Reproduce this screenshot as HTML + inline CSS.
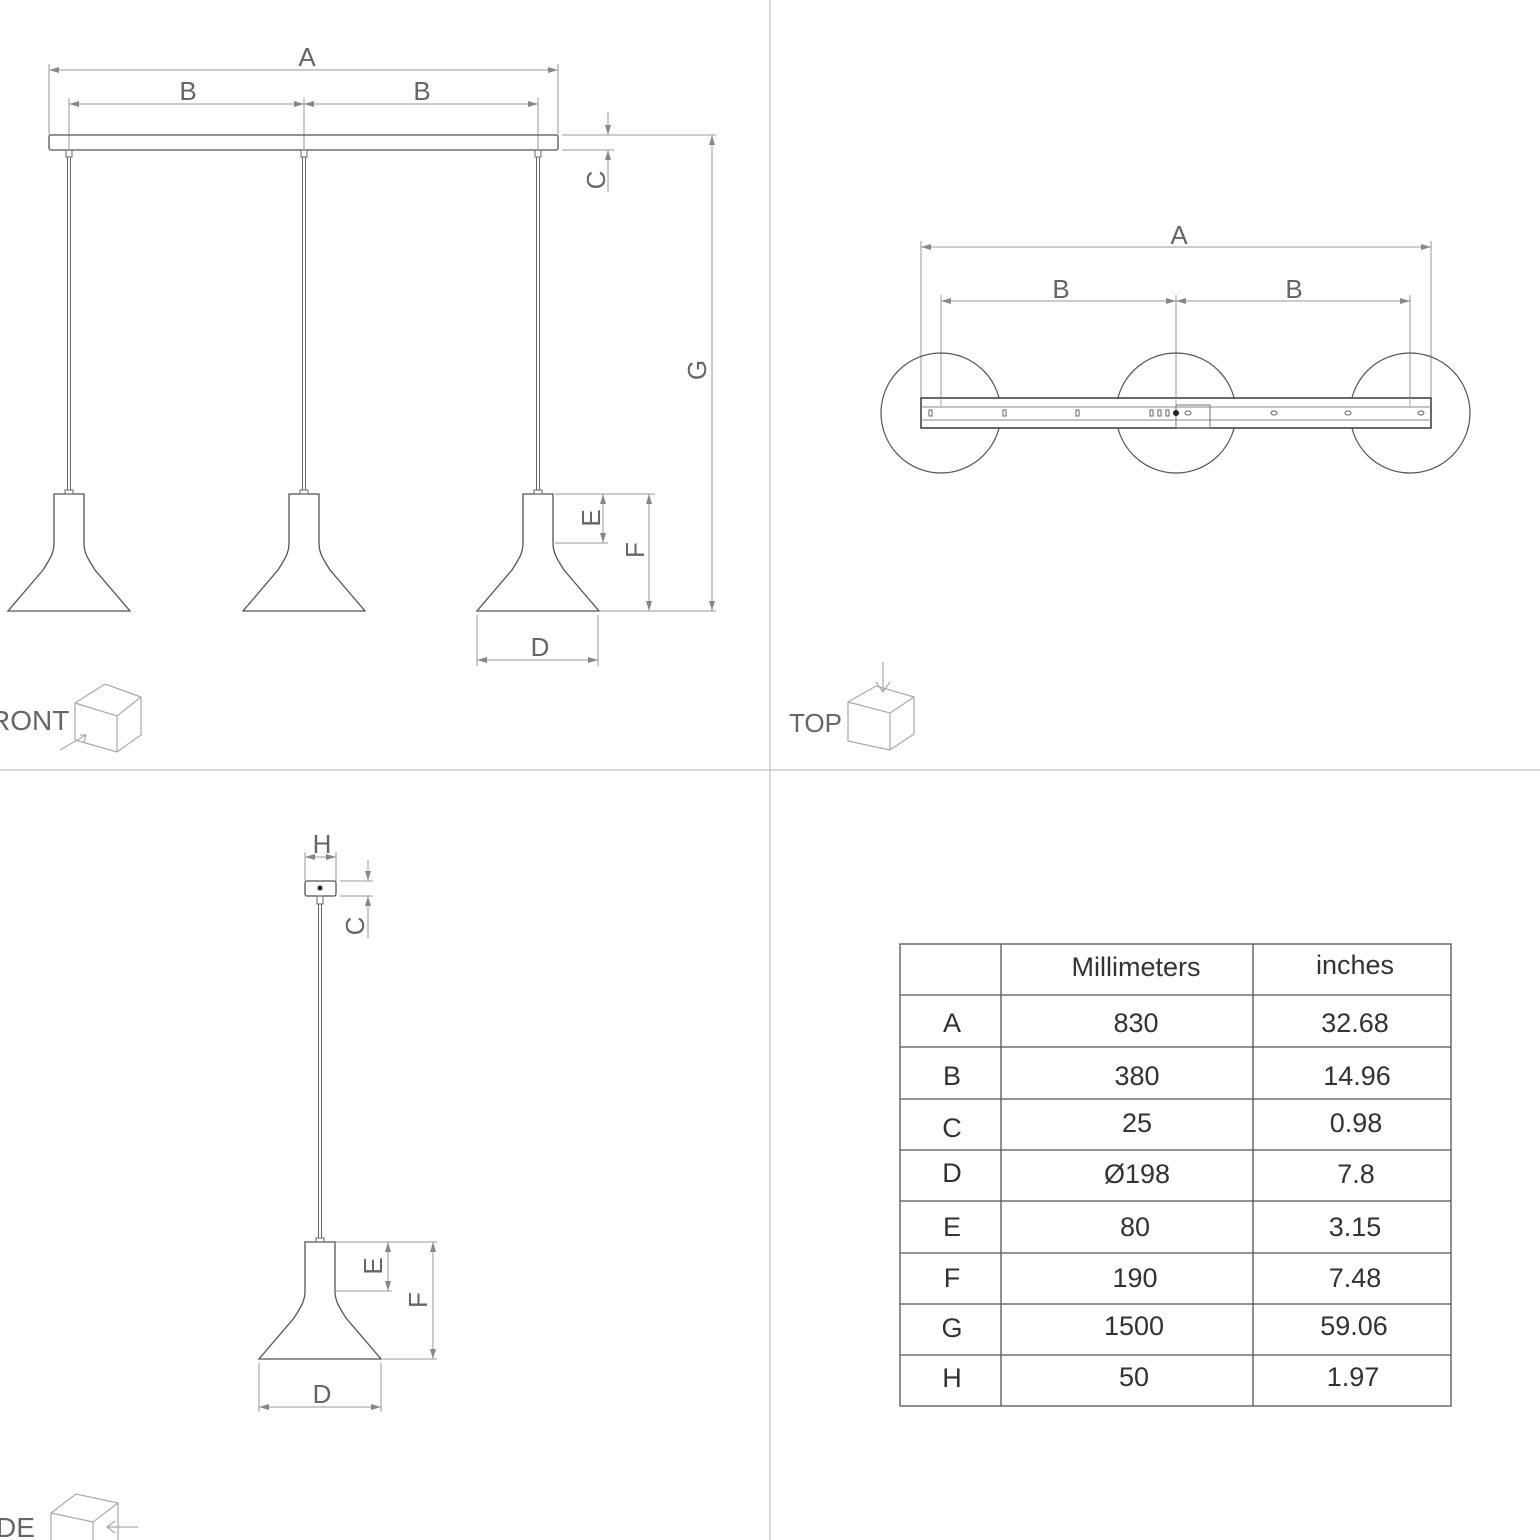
<!DOCTYPE html>
<html><head><meta charset="utf-8"><style>
html,body{margin:0;padding:0;background:#fff;}
svg{display:block}
text{font-family:"Liberation Sans",sans-serif;fill:#666}
</style></head><body>
<svg width="1540" height="1540" viewBox="0 0 1540 1540" xmlns="http://www.w3.org/2000/svg">
<defs>
<marker id="ar" viewBox="0 0 10 6" refX="10" refY="3" markerWidth="10" markerHeight="6" orient="auto-start-reverse" markerUnits="userSpaceOnUse"><path d="M0,0 L10,3 L0,6 z" fill="#888"/></marker>
<g id="lamp"><path d="M-15,0 L15,0 L15,49 C15,60 20,66 26,76 L61,117 L-61,117 L-26,76 C-20,66 -15,60 -15,49 Z" fill="none" stroke="#555" stroke-width="1.3"/><rect x="-4" y="-4" width="8" height="4" fill="none" stroke="#666"/></g>
</defs>
<g stroke="#ccc" stroke-width="1.5"><line x1="770" y1="0" x2="770" y2="1540"/><line x1="0" y1="770" x2="1540" y2="770"/></g>

<!-- FRONT -->
<g stroke="#999" stroke-width="1" fill="none">
<line x1="49" y1="64" x2="49" y2="135"/><line x1="558" y1="64" x2="558" y2="135"/>
<line x1="69" y1="98" x2="69" y2="150"/><line x1="304" y1="98" x2="304" y2="150"/><line x1="538" y1="98" x2="538" y2="150"/>
<line x1="49" y1="70" x2="558" y2="70" marker-start="url(#ar)" marker-end="url(#ar)"/>
<line x1="69" y1="104" x2="304" y2="104" marker-start="url(#ar)" marker-end="url(#ar)"/>
<line x1="304" y1="104" x2="538" y2="104" marker-start="url(#ar)" marker-end="url(#ar)"/>
<line x1="562" y1="135" x2="716" y2="135"/><line x1="562" y1="150" x2="614" y2="150"/>
<line x1="608" y1="112" x2="608" y2="135" marker-end="url(#ar)"/><line x1="608" y1="192" x2="608" y2="150" marker-end="url(#ar)"/>
<line x1="712" y1="135" x2="712" y2="611" marker-start="url(#ar)" marker-end="url(#ar)"/>
<line x1="600" y1="611" x2="716" y2="611"/>
<line x1="555" y1="494" x2="655" y2="494"/><line x1="555" y1="543" x2="608" y2="543"/>
<line x1="603" y1="494" x2="603" y2="543" marker-start="url(#ar)" marker-end="url(#ar)"/>
<line x1="649" y1="494" x2="649" y2="611" marker-start="url(#ar)" marker-end="url(#ar)"/>
<line x1="477" y1="615" x2="477" y2="666"/><line x1="598" y1="615" x2="598" y2="666"/>
<line x1="477" y1="660" x2="598" y2="660" marker-start="url(#ar)" marker-end="url(#ar)"/>
</g>
<rect x="49" y="135" width="509" height="15" rx="2" fill="none" stroke="#555" stroke-width="1.3"/>
<g stroke="#666" fill="none">
<rect x="66" y="150" width="6" height="7"/><rect x="301" y="150" width="6" height="7"/><rect x="535" y="150" width="6" height="7"/>
<line x1="67.5" y1="157" x2="67.5" y2="490"/><line x1="70.5" y1="157" x2="70.5" y2="490"/>
<line x1="302.5" y1="157" x2="302.5" y2="490"/><line x1="305.5" y1="157" x2="305.5" y2="490"/>
<line x1="536.5" y1="157" x2="536.5" y2="490"/><line x1="539.5" y1="157" x2="539.5" y2="490"/>
</g>
<use href="#lamp" x="69" y="494"/><use href="#lamp" x="304" y="494"/><use href="#lamp" x="538" y="494"/>
<g font-size="26" text-anchor="middle">
<text x="307" y="66">A</text><text x="188" y="100">B</text><text x="422" y="100">B</text>
<text x="540" y="656">D</text>
<text transform="translate(605,180) rotate(-90)">C</text>
<text transform="translate(706,370) rotate(-90)">G</text>
<text transform="translate(600,518) rotate(-90)">E</text>
<text transform="translate(644,550) rotate(-90)">F</text>
</g>
<text x="-10" y="730" font-size="28">RONT</text>
<g stroke="#aaa" fill="none" stroke-width="1.2"><path d="M75,703 L105,684 L141,697 L141,735 L117,752 L75,740 Z M75,703 L117,716 L141,697 M117,716 L117,752"/><path d="M60,750 L86,735 M80,735 L86,735 L84,742"/></g>

<!-- TOP -->
<g stroke="#999" stroke-width="1" fill="none">
<line x1="921" y1="241" x2="921" y2="398"/><line x1="1431" y1="241" x2="1431" y2="398"/>
<line x1="941" y1="295" x2="941" y2="410"/><line x1="1176" y1="295" x2="1176" y2="410"/><line x1="1410" y1="295" x2="1410" y2="410"/>
<line x1="921" y1="247" x2="1431" y2="247" marker-start="url(#ar)" marker-end="url(#ar)"/>
<line x1="941" y1="301" x2="1176" y2="301" marker-start="url(#ar)" marker-end="url(#ar)"/>
<line x1="1176" y1="301" x2="1410" y2="301" marker-start="url(#ar)" marker-end="url(#ar)"/>
</g>
<g fill="none" stroke="#555" stroke-width="1.2">
<circle cx="941" cy="413" r="60"/><circle cx="1176" cy="413" r="60"/><circle cx="1410" cy="413" r="60"/>
</g>
<rect x="921" y="398" width="510" height="30" fill="#fff" stroke="#444" stroke-width="1.6"/>
<line x1="921" y1="407" x2="1431" y2="407" stroke="#888"/><line x1="921" y1="420" x2="1431" y2="420" stroke="#888"/>
<line x1="941" y1="398" x2="941" y2="407" stroke="#aaa"/><line x1="1410" y1="398" x2="1410" y2="407" stroke="#aaa"/><line x1="1176" y1="398" x2="1176" y2="407" stroke="#aaa"/>
<rect x="1176" y="405" width="34" height="23" fill="none" stroke="#777"/>
<circle cx="1176" cy="413" r="3" fill="#222"/>
<g fill="none" stroke="#666" stroke-width="1"><rect x="929" y="410" width="3" height="6"/><rect x="1003" y="410" width="3" height="6"/><rect x="1076" y="410" width="3" height="6"/><rect x="1150" y="410" width="3" height="6"/><rect x="1158" y="410" width="3" height="6"/><rect x="1166" y="410" width="3" height="6"/><ellipse cx="1188" cy="413" rx="3" ry="2"/><ellipse cx="1274" cy="413" rx="3" ry="2"/><ellipse cx="1348" cy="413" rx="3" ry="2"/><ellipse cx="1421" cy="413" rx="3" ry="2"/></g>
<g font-size="26" text-anchor="middle"><text x="1179" y="244">A</text><text x="1061" y="298">B</text><text x="1294" y="298">B</text></g>
<text x="789" y="732" font-size="26">TOP</text>
<g stroke="#aaa" fill="none" stroke-width="1.2"><path d="M848,702 L876,686 L914,697 L914,734 L890,750 L848,741 Z M848,702 L890,713 L914,697 M890,713 L890,750"/><path d="M883,662 L883,692 M876,682 L883,692 L890,682"/></g>

<!-- SIDE -->
<g stroke="#999" stroke-width="1" fill="none">
<line x1="305" y1="852" x2="305" y2="881"/><line x1="336" y1="852" x2="336" y2="881"/>
<line x1="305" y1="857" x2="336" y2="857" marker-start="url(#ar)" marker-end="url(#ar)"/>
<line x1="340" y1="881" x2="373" y2="881"/><line x1="340" y1="896" x2="373" y2="896"/>
<line x1="368" y1="860" x2="368" y2="881" marker-end="url(#ar)"/><line x1="368" y1="938" x2="368" y2="896" marker-end="url(#ar)"/>
<line x1="336" y1="1242" x2="437" y2="1242"/><line x1="336" y1="1291" x2="392" y2="1291"/><line x1="383" y1="1359" x2="437" y2="1359"/>
<line x1="388" y1="1242" x2="388" y2="1291" marker-start="url(#ar)" marker-end="url(#ar)"/>
<line x1="433" y1="1242" x2="433" y2="1359" marker-start="url(#ar)" marker-end="url(#ar)"/>
<line x1="259" y1="1363" x2="259" y2="1412"/><line x1="381" y1="1363" x2="381" y2="1412"/>
<line x1="259" y1="1407" x2="381" y2="1407" marker-start="url(#ar)" marker-end="url(#ar)"/>
</g>
<rect x="305" y="881" width="31" height="15" rx="2" fill="none" stroke="#555" stroke-width="1.3"/>
<circle cx="320" cy="888" r="2.5" fill="#222"/>
<g stroke="#666" fill="none"><rect x="317" y="896" width="6" height="8"/><line x1="318.5" y1="904" x2="318.5" y2="1238"/><line x1="321.5" y1="904" x2="321.5" y2="1238"/></g>
<use href="#lamp" x="320" y="1242"/>
<g font-size="26" text-anchor="middle">
<text x="322" y="853">H</text><text x="322" y="1403">D</text>
<text transform="translate(364,926) rotate(-90)">C</text>
<text transform="translate(382,1266) rotate(-90)">E</text>
<text transform="translate(427,1300) rotate(-90)">F</text>
</g>
<text x="-4" y="1537" font-size="28">DE</text>
<g stroke="#aaa" fill="none" stroke-width="1.2"><path d="M51,1513 L76,1494 L118,1503 L118,1540 M51,1513 L51,1540 M51,1513 L93,1522 L118,1503 M93,1522 L93,1540"/><path d="M138,1527 L107,1527 M115,1521 L107,1527 L115,1533"/></g>

<!-- TABLE -->
<g stroke="#555" stroke-width="1.3" fill="none">
<rect x="900" y="944" width="551" height="462"/>
<line x1="1001" y1="944" x2="1001" y2="1406"/><line x1="1253" y1="944" x2="1253" y2="1406"/>
<line x1="900" y1="995" x2="1451" y2="995"/><line x1="900" y1="1047" x2="1451" y2="1047"/><line x1="900" y1="1099" x2="1451" y2="1099"/><line x1="900" y1="1150" x2="1451" y2="1150"/><line x1="900" y1="1201" x2="1451" y2="1201"/><line x1="900" y1="1253" x2="1451" y2="1253"/><line x1="900" y1="1304" x2="1451" y2="1304"/><line x1="900" y1="1355" x2="1451" y2="1355"/>
</g>
<g font-size="27" text-anchor="middle" style="fill:#333">
<text x="1136" y="976" style="fill:#333">Millimeters</text><text x="1355" y="974" style="fill:#333">inches</text>
<text x="952" y="1032" style="fill:#333">A</text><text x="1136" y="1032" style="fill:#333">830</text><text x="1355" y="1032" style="fill:#333">32.68</text>
<text x="952" y="1085" style="fill:#333">B</text><text x="1137" y="1085" style="fill:#333">380</text><text x="1357" y="1085" style="fill:#333">14.96</text>
<text x="952" y="1137" style="fill:#333">C</text><text x="1137" y="1132" style="fill:#333">25</text><text x="1356" y="1132" style="fill:#333">0.98</text>
<text x="952" y="1182" style="fill:#333">D</text><text x="1137" y="1183" style="fill:#333">Ø198</text><text x="1356" y="1183" style="fill:#333">7.8</text>
<text x="952" y="1236" style="fill:#333">E</text><text x="1135" y="1236" style="fill:#333">80</text><text x="1355" y="1236" style="fill:#333">3.15</text>
<text x="952" y="1287" style="fill:#333">F</text><text x="1135" y="1287" style="fill:#333">190</text><text x="1355" y="1287" style="fill:#333">7.48</text>
<text x="952" y="1337" style="fill:#333">G</text><text x="1134" y="1335" style="fill:#333">1500</text><text x="1354" y="1335" style="fill:#333">59.06</text>
<text x="952" y="1387" style="fill:#333">H</text><text x="1134" y="1386" style="fill:#333">50</text><text x="1353" y="1386" style="fill:#333">1.97</text>
</g>
</svg>
</body></html>
